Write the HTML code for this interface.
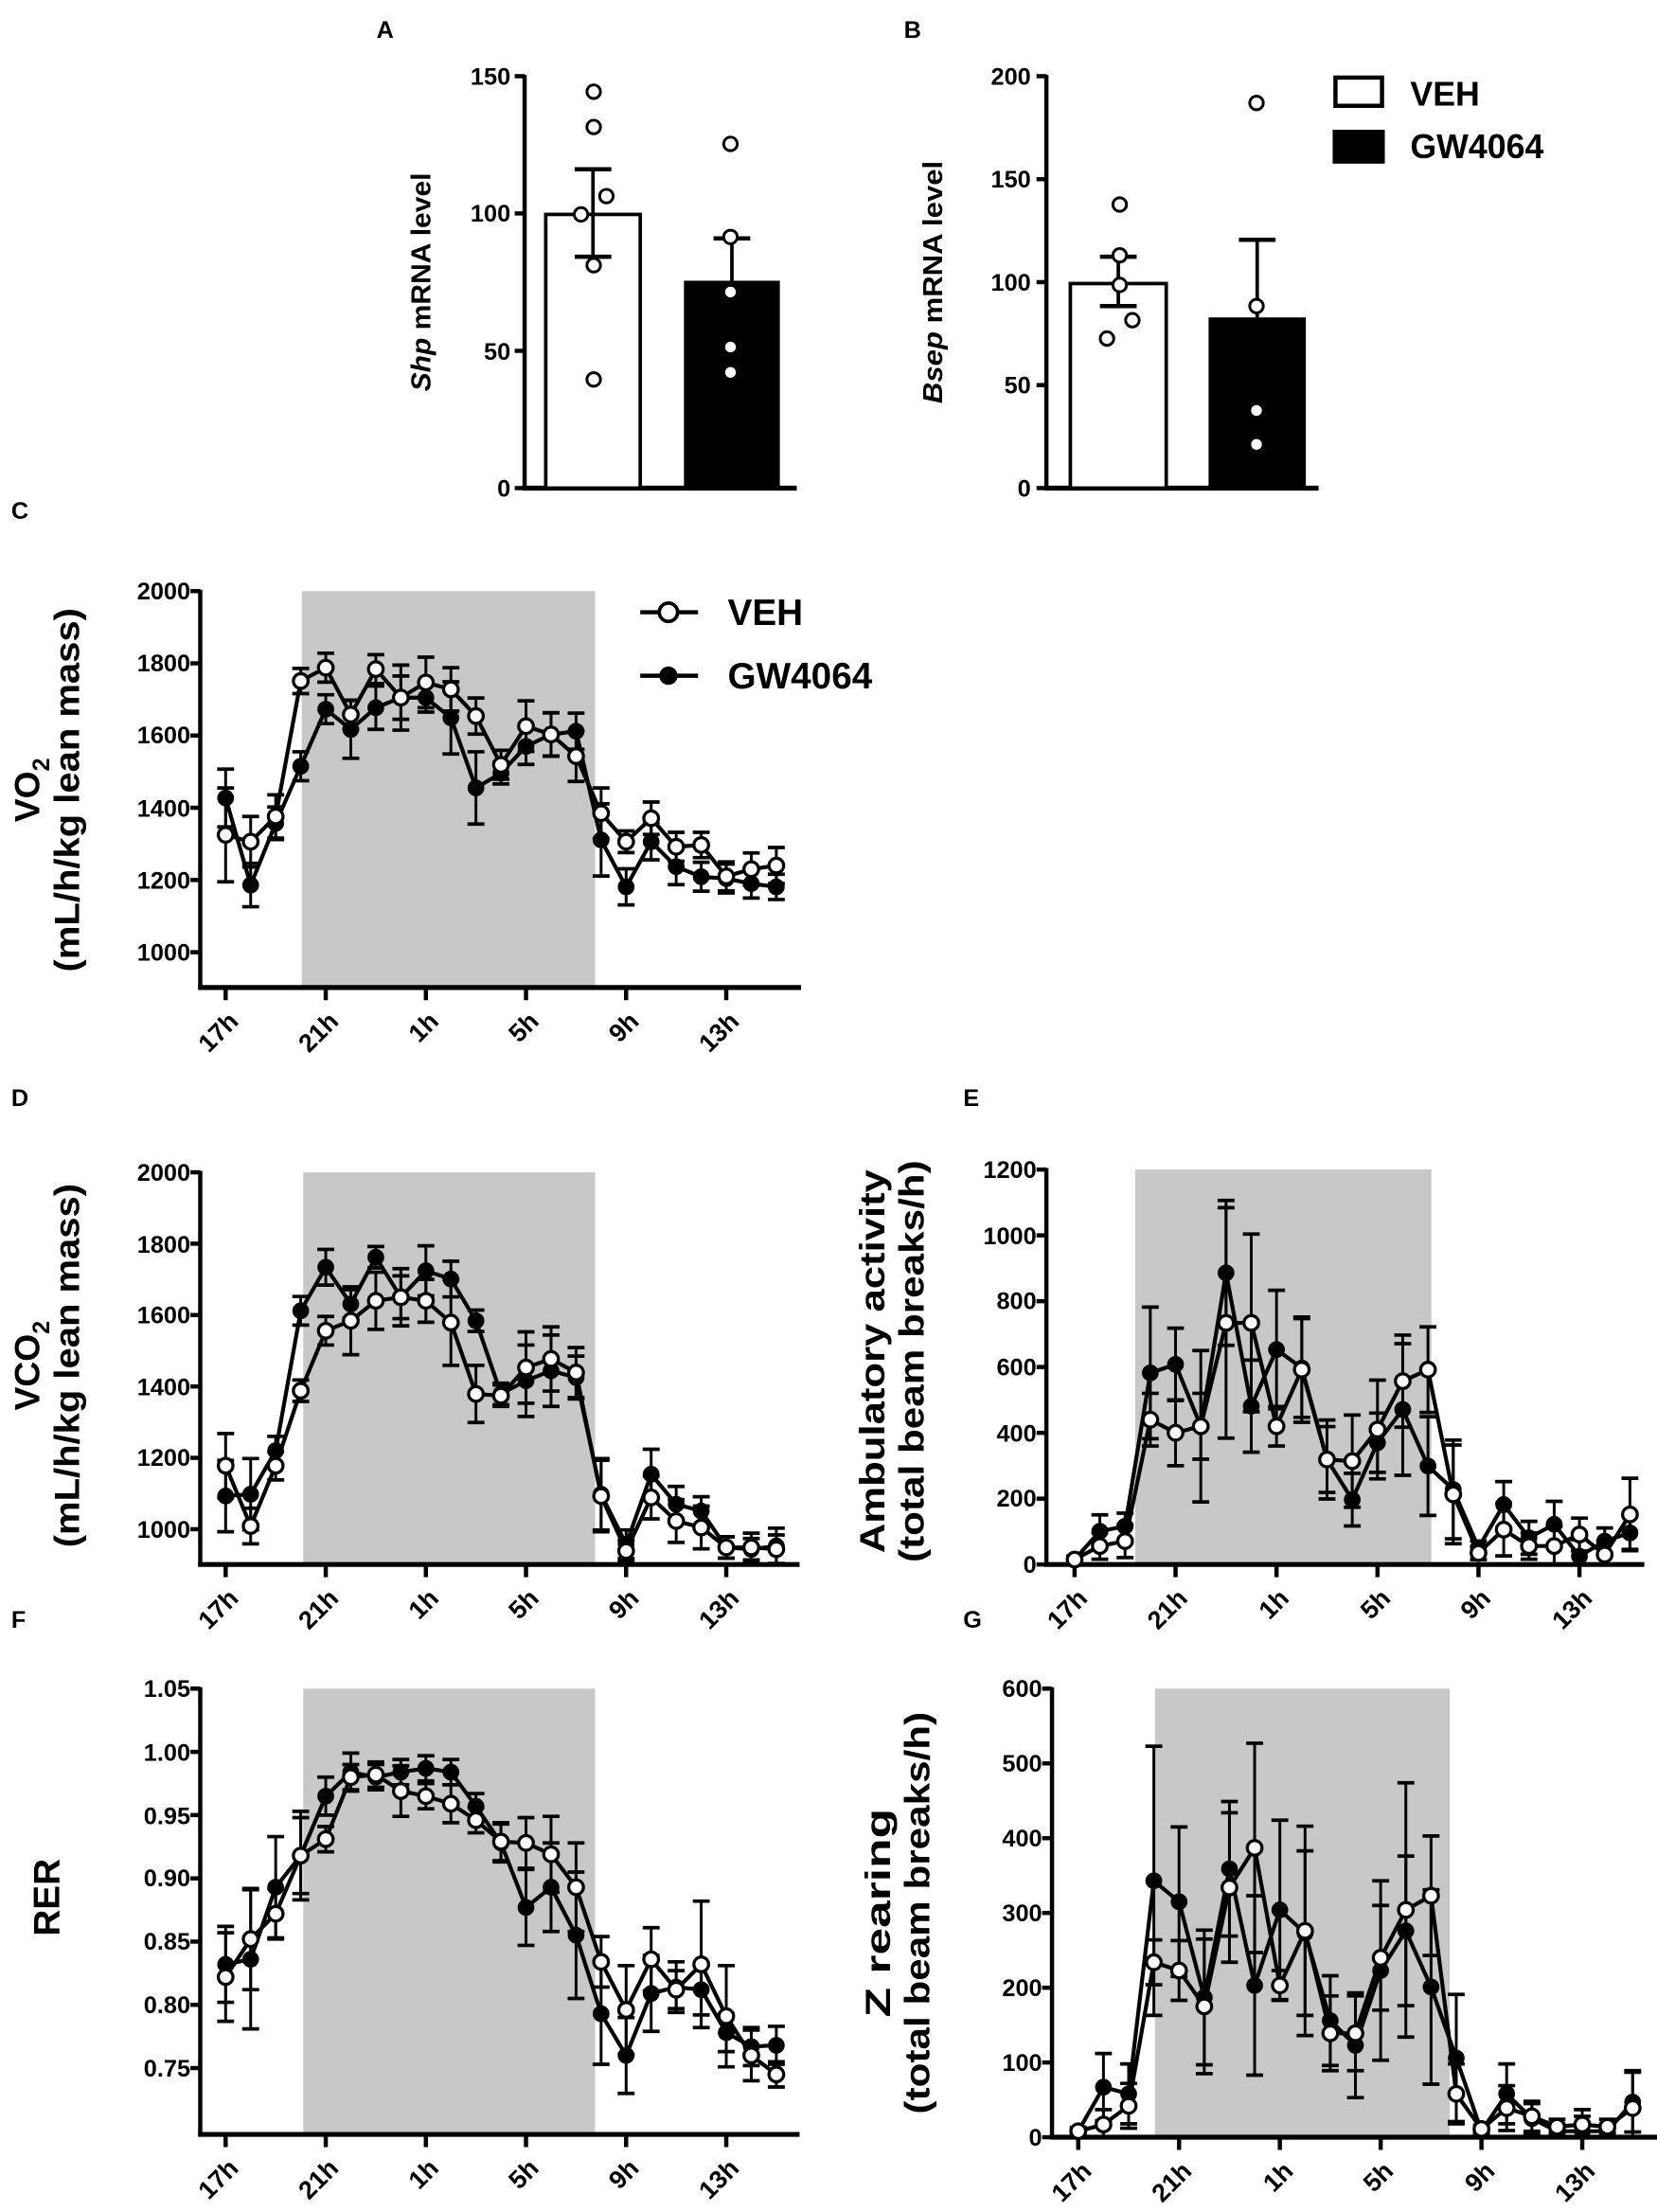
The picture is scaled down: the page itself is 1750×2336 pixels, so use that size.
<!DOCTYPE html>
<html><head><meta charset="utf-8">
<style>
html,body{margin:0;padding:0;background:#fff;}
svg{display:block;}
text{font-family:"Liberation Sans",Arial,sans-serif;font-weight:bold;fill:#000;}
.t{font-size:17px;}
.yt{text-anchor:end;}
.xt{text-anchor:end;font-size:18px;}
.ttl{font-size:25px;text-anchor:middle;}
.lab{font-size:17px;}
.leg{font-size:26px;}
</style></head>
<body>
<svg id="s" width="1750" height="2336" viewBox="0 0 1175 1568" preserveAspectRatio="none" xmlns="http://www.w3.org/2000/svg">
<g id="plots"></g>
<text class="lab" x="267" y="27">A</text>
<text class="lab" x="641" y="27">B</text>
<text class="lab" x="8" y="368">C</text>
<text class="lab" x="8" y="784">D</text>
<text class="lab" x="683" y="784">E</text>
<text class="lab" x="8" y="1154">F</text>
<text class="lab" x="683" y="1154">G</text>

<g class="t yt">
<text x="362" y="60">150</text><text x="362" y="157">100</text><text x="362" y="255">50</text><text x="362" y="352">0</text>
<text x="731" y="60">200</text><text x="731" y="133">150</text><text x="731" y="206">100</text><text x="731" y="279">50</text><text x="731" y="352">0</text>
</g>
<text transform="translate(305,200) rotate(-90)" text-anchor="middle" style="font-size:19px" textLength="155" lengthAdjust="spacingAndGlyphs"><tspan font-style="italic">Shp</tspan> mRNA level</text>
<text transform="translate(668,200) rotate(-90)" text-anchor="middle" style="font-size:19px" textLength="172" lengthAdjust="spacingAndGlyphs"><tspan font-style="italic">Bsep</tspan> mRNA level</text>
<text x="1000" y="75" style="font-size:24px">VEH</text>
<text x="1000" y="112" style="font-size:24px">GW4064</text>

<!-- C -->
<g class="t yt">
<text x="135" y="425">2000</text><text x="135" y="476">1800</text><text x="135" y="527">1600</text><text x="135" y="579">1400</text><text x="135" y="630">1200</text><text x="135" y="681">1000</text>
</g>
<text class="ttl" transform="translate(28,560) rotate(-90)">VO<tspan font-size="17" dy="7">2</tspan></text>
<text class="ttl" transform="translate(56,560) rotate(-90)" textLength="258" lengthAdjust="spacingAndGlyphs">(mL/h/kg lean mass)</text>
<text class="leg" x="516" y="443">VEH</text>
<text class="leg" x="516" y="488">GW4064</text>
<g class="xt">
<text transform="translate(170,725) rotate(-45)">17h</text><text transform="translate(241,725) rotate(-45)">21h</text><text transform="translate(312,725) rotate(-45)">1h</text><text transform="translate(383,725) rotate(-45)">5h</text><text transform="translate(454,725) rotate(-45)">9h</text><text transform="translate(525,725) rotate(-45)">13h</text>
</g>

<!-- D -->
<g class="t yt">
<text x="135" y="837">2000</text><text x="135" y="888">1800</text><text x="135" y="938">1600</text><text x="135" y="989">1400</text><text x="135" y="1039">1200</text><text x="135" y="1090">1000</text>
</g>
<text class="ttl" transform="translate(28,968) rotate(-90)">VCO<tspan font-size="17" dy="7">2</tspan></text>
<text class="ttl" transform="translate(56,968) rotate(-90)" textLength="258" lengthAdjust="spacingAndGlyphs">(mL/h/kg lean mass)</text>
<g class="xt">
<text transform="translate(170,1134) rotate(-45)">17h</text><text transform="translate(241,1134) rotate(-45)">21h</text><text transform="translate(312,1134) rotate(-45)">1h</text><text transform="translate(383,1134) rotate(-45)">5h</text><text transform="translate(454,1134) rotate(-45)">9h</text><text transform="translate(525,1134) rotate(-45)">13h</text>
</g>

<!-- E -->
<g class="t yt">
<text x="735" y="835">1200</text><text x="735" y="882">1000</text><text x="735" y="928">800</text><text x="735" y="975">600</text><text x="735" y="1022">400</text><text x="735" y="1068">200</text><text x="735" y="1115">0</text>
</g>
<text class="ttl" transform="translate(627,965) rotate(-90)" textLength="272" lengthAdjust="spacingAndGlyphs">Ambulatory activity</text>
<text class="ttl" transform="translate(655,965) rotate(-90)" textLength="285" lengthAdjust="spacingAndGlyphs">(total beam breaks/h)</text>
<g class="xt">
<text transform="translate(772,1134) rotate(-45)">17h</text><text transform="translate(843,1134) rotate(-45)">21h</text><text transform="translate(915,1134) rotate(-45)">1h</text><text transform="translate(987,1134) rotate(-45)">5h</text><text transform="translate(1058,1134) rotate(-45)">9h</text><text transform="translate(1130,1134) rotate(-45)">13h</text>
</g>

<!-- F -->
<g class="t yt">
<text x="135" y="1203">1.05</text><text x="135" y="1248">1.00</text><text x="135" y="1293">0.95</text><text x="135" y="1337">0.90</text><text x="135" y="1382">0.85</text><text x="135" y="1427">0.80</text><text x="135" y="1472">0.75</text>
</g>
<text class="ttl" transform="translate(42,1345) rotate(-90)" style="font-size:26px">RER</text>
<g class="xt">
<text transform="translate(170,1538) rotate(-45)">17h</text><text transform="translate(241,1538) rotate(-45)">21h</text><text transform="translate(312,1538) rotate(-45)">1h</text><text transform="translate(383,1538) rotate(-45)">5h</text><text transform="translate(454,1538) rotate(-45)">9h</text><text transform="translate(525,1538) rotate(-45)">13h</text>
</g>

<!-- G -->
<g class="t yt">
<text x="739" y="1203">600</text><text x="739" y="1256">500</text><text x="739" y="1309">400</text><text x="739" y="1362">300</text><text x="739" y="1415">200</text><text x="739" y="1468">100</text><text x="739" y="1521">0</text>
</g>
<text class="ttl" transform="translate(631,1356) rotate(-90)" textLength="148" lengthAdjust="spacingAndGlyphs">Z rearing</text>
<text class="ttl" transform="translate(659,1356) rotate(-90)" textLength="285" lengthAdjust="spacingAndGlyphs">(total beam breaks/h)</text>
<g class="xt">
<text transform="translate(775,1540) rotate(-45)">17h</text><text transform="translate(846,1540) rotate(-45)">21h</text><text transform="translate(918,1540) rotate(-45)">1h</text><text transform="translate(989,1540) rotate(-45)">5h</text><text transform="translate(1061,1540) rotate(-45)">9h</text><text transform="translate(1132,1540) rotate(-45)">13h</text>
</g>
</svg>
<script>
var NS="http://www.w3.org/2000/svg";var G=document.getElementById("plots");
function el(n,a){var e=document.createElementNS(NS,n);for(var k in a)e.setAttribute(k,a[k]);G.appendChild(e);return e;}
function line(x1,y1,x2,y2,w){el("line",{x1:x1,y1:y1,x2:x2,y2:y2,stroke:"#000","stroke-width":w||2});}
function axes(ax,ay,top,right,yt,xt){
  line(ax,top-1,ax,ay+1.5,3);line(ax-1.5,ay,right,ay,3.5);
  yt.forEach(function(y){line(ax-7,y,ax,y,3);});
  xt.forEach(function(x){line(x,ay,x,ay+9,3);});
}
function ts(c){
  el("rect",{x:c.sh[0],y:c.top,width:c.sh[1]-c.sh[0],height:c.ay-c.top,fill:"#c8c8c8"});
  var yt=[];for(var i=0;i<c.ytick.length;i++)yt.push(c.yf(c.ytick[i]));
  var xt=[];for(var j=0;j<6;j++)xt.push(c.x0+j*4*c.st);
  axes(c.ax,c.ay,c.top,c.right,yt,xt);
  function X(i){return c.x0+i*c.st;}
  function eb(d,e){for(var i=0;i<d.length;i++){var x=X(i),y1=c.yf(d[i]+e[i]),y2=Math.min(c.yf(d[i]-e[i]),c.ay);
    line(x,y1,x,y2,2);line(x-6,y1,x+6,y1,2.5);line(x-6,y2,x+6,y2,2.5);}}
  function pl(d){var p="";for(var i=0;i<d.length;i++)p+=X(i)+","+c.yf(d[i])+" ";el("polyline",{points:p,fill:"none",stroke:"#000","stroke-width":2.8,"stroke-linejoin":"round"});}
  eb(c.g,c.ge);eb(c.v,c.ve);pl(c.g);pl(c.v);
  for(var i=0;i<c.g.length;i++)el("circle",{cx:X(i),cy:c.yf(c.g[i]),r:5.2,fill:"#000",stroke:"#000","stroke-width":1.5});
  for(var i=0;i<c.v.length;i++)el("circle",{cx:X(i),cy:c.yf(c.v[i]),r:5.2,fill:"#fff",stroke:"#000","stroke-width":2.2});
}
function bars(c){
  axes(c.ax,346,54,c.right,c.yt,[]);
  el("rect",{x:c.b1[0],y:c.b1[2],width:c.b1[1]-c.b1[0],height:346-c.b1[2],fill:"#fff",stroke:"#000","stroke-width":2.5});
  el("rect",{x:c.b2[0],y:c.b2[2],width:c.b2[1]-c.b2[0],height:346-c.b2[2],fill:"#000"});
  var m1=(c.b1[0]+c.b1[1])/2,m2=(c.b2[0]+c.b2[1])/2;
  line(m1,c.e1[0],m1,c.e1[1],2.5);line(m1-13,c.e1[0],m1+13,c.e1[0],3);line(m1-13,c.e1[1],m1+13,c.e1[1],3);
  line(m2,c.e2,m2,c.b2[2],2.5);line(m2-13,c.e2,m2+13,c.e2,3);
  c.p.forEach(function(p){el("circle",{cx:p[0],cy:p[1],r:4.8,fill:"#fff",stroke:"#000","stroke-width":2});});
}
bars({ax:372,right:565,yt:[54,151.3,248.7,346],b1:[387,454,152],b2:[485,553,199],e1:[120,182],e2:[169],
  p:[[421,65],[421,90],[430,139],[412,152],[421,188],[421,269],[518,102],[518,168],[518,207],[518,246],[518,264]]});
bars({ax:742,right:935,yt:[54,127,200,273,346],b1:[759,827,201],b2:[857,926,225],e1:[182,217],e2:[170],
  p:[[794,145],[794,181],[794,202],[803,227],[785,240],[891,73],[891,217],[891,291],[891,315]]});
el("rect",{x:947,y:55,width:33,height:20,fill:"#fff",stroke:"#000","stroke-width":3});
el("rect",{x:945,y:92,width:37,height:24,fill:"#000"});
line(454,434,495,434,3);el("circle",{cx:474,cy:434,r:6.5,fill:"#fff",stroke:"#000","stroke-width":2.5});
line(454,479,495,479,3);el("circle",{cx:474,cy:479,r:6.5,fill:"#000"});
ts({ax:142,ay:700,top:419,right:568,x0:160,st:17.75,sh:[214,422],ytick:[2000,1800,1600,1400,1200,1000],
 yf:function(v){return 419+(2000-v)*0.256;},
 v:[1325,1306,1376,1751,1788,1658,1784,1705,1747,1728,1654,1519,1626,1603,1543,1385,1306,1371,1292,1297,1210,1230,1240],
 ve:[130,70,60,35,40,40,40,60,70,60,50,40,70,60,70,70,30,45,40,35,40,45,50],
 g:[1427,1186,1357,1515,1673,1617,1677,1705,1705,1649,1455,1496,1570,1603,1612,1311,1181,1306,1237,1209,1204,1190,1181],
 ge:[80,60,45,40,40,80,60,90,40,100,100,30,50,60,50,100,50,50,50,40,40,40,35]});
ts({ax:142,ay:1109,top:831,right:567,x0:160,st:17.75,sh:[215,422],ytick:[2000,1800,1600,1400,1200,1000],
 yf:function(v){return 831+(2000-v)*0.253;},
 v:[1178,1009,1178,1388,1556,1584,1640,1650,1640,1579,1379,1374,1453,1477,1439,1093,939,1089,1023,1005,949,949,944],
 ve:[90,50,40,30,40,95,80,80,60,120,80,30,100,90,70,100,30,60,60,60,30,40,40],
 g:[1093,1098,1220,1612,1734,1631,1762,1650,1724,1701,1584,1379,1416,1444,1425,1098,958,1154,1070,1051,949,944,953],
 ge:[100,100,40,40,50,40,30,60,70,50,30,30,100,100,60,100,40,70,50,40,30,30,50]});
ts({ax:742,ay:1109,top:829,right:1166,x0:762,st:17.9,sh:[805,1015],ytick:[1200,1000,800,600,400,200,0],
 yf:function(v){return 1109-v*0.2333;},
 v:[15,56,71,440,400,420,734,734,420,592,319,314,410,557,592,213,35,106,56,56,91,30,152],
 ve:[10,40,50,80,100,230,350,270,60,160,120,140,150,140,130,150,20,80,40,60,50,40,110],
 g:[15,101,116,582,608,420,886,481,653,597,319,197,370,471,299,228,51,182,81,122,25,71,96],
 ge:[10,50,40,200,110,100,220,140,180,150,100,80,90,200,150,150,20,70,50,70,50,40,50]});
ts({ax:142,ay:1513,top:1197,right:567,x0:160,st:17.75,sh:[215,422],ytick:[1.05,1.0,0.95,0.9,0.85,0.8,0.75],
 yf:function(v){return 1197+(1.05-v)*896.6;},
 v:[.822,.852,.872,.918,.931,.980,.982,.969,.965,.959,.946,.929,.928,.919,.893,.834,.796,.836,.812,.832,.791,.760,.745],
 ve:[.035,.04,.02,.03,.01,.01,.01,.02,.01,.015,.01,.015,.02,.03,.035,.02,.035,.025,.015,.05,.04,.02,.01],
 g:[.832,.836,.893,.918,.965,.984,.980,.984,.987,.984,.957,.928,.877,.893,.855,.793,.760,.809,.814,.812,.778,.767,.768],
 ge:[.03,.055,.04,.035,.015,.015,.01,.01,.01,.01,.01,.015,.03,.035,.05,.04,.03,.03,.02,.02,.015,.015,.015]});
ts({ax:746,ay:1515,top:1197,right:1175,x0:764.6,st:17.87,sh:[819,1028],ytick:[600,500,400,300,200,100,0],
 yf:function(v){return 1515-v*0.53;},
 v:[8,17,42,234,223,175,334,387,203,276,139,139,240,304,323,58,11,39,28,14,17,14,39],
 ve:[5,20,30,30,40,90,100,140,20,140,50,50,70,170,80,40,5,30,20,10,20,10,50],
 g:[8,67,58,343,315,187,359,203,304,273,156,123,223,276,201,106,8,58,25,8,8,8,47],
 ge:[5,45,40,180,100,90,90,120,120,110,60,70,120,100,130,85,5,40,20,10,20,10,40]});
</script>
</body></html>
